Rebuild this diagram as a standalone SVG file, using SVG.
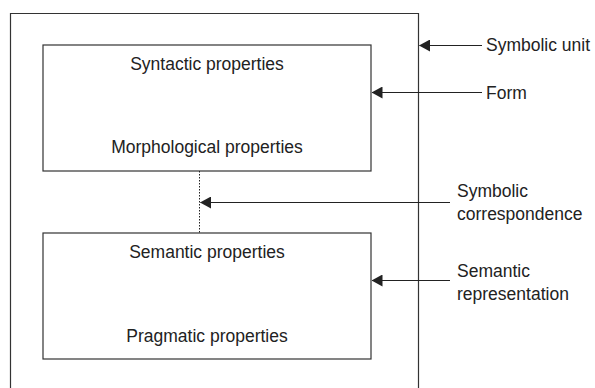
<svg xmlns="http://www.w3.org/2000/svg" width="595" height="388" viewBox="0 0 595 388">
<style>
.box{fill:none;stroke:#333;stroke-width:1.2}
.ln{fill:none;stroke:#222;stroke-width:1.2}
.dot{fill:none;stroke:#222;stroke-width:1;stroke-dasharray:1.5 1.5}
text{font-family:"Liberation Sans",Arial,sans-serif;font-size:17.5px;fill:#222}
.c{text-anchor:middle}
</style>
<defs>
<marker id="ah" markerWidth="11" markerHeight="12" refX="10.5" refY="6" orient="auto" markerUnits="userSpaceOnUse">
<path d="M0,0 L11,6 L0,12 Z" fill="#222"/>
</marker>
</defs>
<rect width="595" height="388" fill="#fff"/>
<g id="symbolic-unit">
<path class="box" d="M10.5,388 V13.5 H418.5 V388"/>
</g>
<g id="form">
<rect class="box" x="43" y="45" width="328" height="126"/>
<text class="c" x="207" y="70">Syntactic properties</text>
<text class="c" x="207" y="153">Morphological properties</text>
</g>
<g id="meaning">
<rect class="box" x="43" y="233" width="328" height="126"/>
<text class="c" x="207" y="258">Semantic properties</text>
<text class="c" x="207" y="342">Pragmatic properties</text>
</g>
<g id="labels">
<text x="486" y="51">Symbolic unit</text>
<text x="486" y="99">Form</text>
<text x="457" y="197">Symbolic</text>
<text x="457" y="220">correspondence</text>
<text x="457" y="277">Semantic</text>
<text x="457" y="300">representation</text>
</g>
<g id="connectors">
<line class="dot" x1="199.5" y1="171" x2="199.5" y2="233"/>
<line class="ln" x1="482" y1="45.5" x2="419.5" y2="45.5" marker-end="url(#ah)"/>
<line class="ln" x1="482" y1="92.5" x2="372" y2="92.5" marker-end="url(#ah)"/>
<line class="ln" x1="450" y1="202.5" x2="200.5" y2="202.5" marker-end="url(#ah)"/>
<line class="ln" x1="450" y1="280.5" x2="372" y2="280.5" marker-end="url(#ah)"/>
</g>
</svg>
